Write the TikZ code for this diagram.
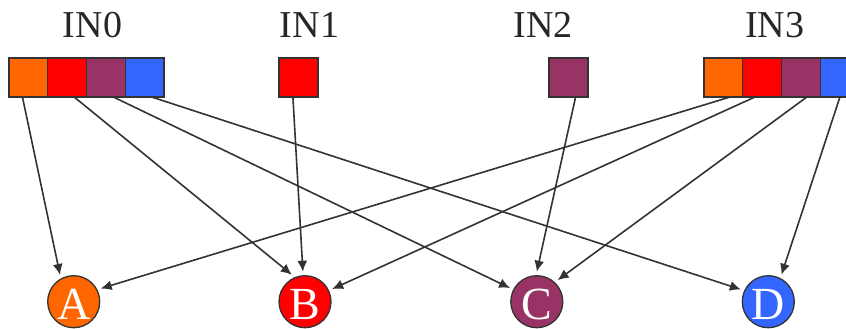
\documentclass[tikz,border=0pt]{standalone}
\usepackage{fontspec}
\setmainfont{Liberation Serif}
\usetikzlibrary{arrows.meta}
\definecolor{cOrange}{HTML}{FF6600}
\definecolor{cRed}{HTML}{FF0000}
\definecolor{cPurple}{HTML}{993366}
\definecolor{cBlue}{HTML}{3366FF}
\definecolor{cEdge}{HTML}{333333}
\definecolor{cText}{HTML}{262626}
\begin{document}
\begin{tikzpicture}[x=1pt,y=-1pt,
  cell/.style={draw=cEdge,line width=1.3pt,minimum width=38.75pt,minimum height=39pt,inner sep=0pt,outer sep=0pt},
  dest/.style={circle,draw=cEdge,line width=1.3pt,minimum size=52pt,inner sep=0pt,outer sep=4pt,
    text=white,font=\fontsize{46}{46}\selectfont,text height=36pt,text depth=0pt},
  lbl/.style={anchor=base,text=cText,font=\fontsize{38}{38}\selectfont},
  >={Latex[length=11pt,width=10pt]}]
\useasboundingbox (0,0) rectangle (846,329);
\node[lbl] (L0) at (92.5,38) {IN0};
\node[lbl] (L1) at (309.5,38) {IN1};
\node[lbl] (L2) at (543.3,38) {IN2};
\node[lbl] (L3) at (774.7,38) {IN3};
\node[cell,fill=cOrange] (q00) at (28.4,77.5) {};
\node[cell,fill=cRed] (q01) at (67.1,77.5) {};
\node[cell,fill=cPurple] (q02) at (105.9,77.5) {};
\node[cell,fill=cBlue] (q03) at (144.6,77.5) {};
\node[cell,fill=cRed] (q1) at (298.5,77.5) {};
\node[cell,fill=cPurple] (q2) at (568.5,77.5) {};
\node[cell,fill=cOrange] (q30) at (723.4,77.5) {};
\node[cell,fill=cRed] (q31) at (762.1,77.5) {};
\node[cell,fill=cPurple] (q32) at (800.9,77.5) {};
\node[cell,fill=cBlue] (q33) at (839.6,77.5) {};
\node[dest,fill=cOrange] (A) at (73.7,301.7) {A};
\node[dest,fill=cRed] (B) at (305,301.7) {B};
\node[dest,fill=cPurple] (C) at (536.8,301.7) {C};
\node[dest,fill=cBlue] (D) at (768.3,301.7) {D};
\begin{scope}[draw=cEdge,line width=1.6pt]
\draw[->] (q00.253) -- (A.117);
\draw[->] (q01.290) -- (B.116);
\draw[->] (q02.291) -- (C.153);
\draw[->] (q03.290) -- (D.156);
\draw[->] (q1.254) -- (B.94);
\draw[->] (q2.290) -- (C.90);
\draw[->] (q30.289) -- (A.26);
\draw[->] (q31.250) -- (B.25);
\draw[->] (q32.287) -- (C.46);
\draw[->] (q33.271) -- (D.64);
\end{scope}
\end{tikzpicture}
\end{document}
